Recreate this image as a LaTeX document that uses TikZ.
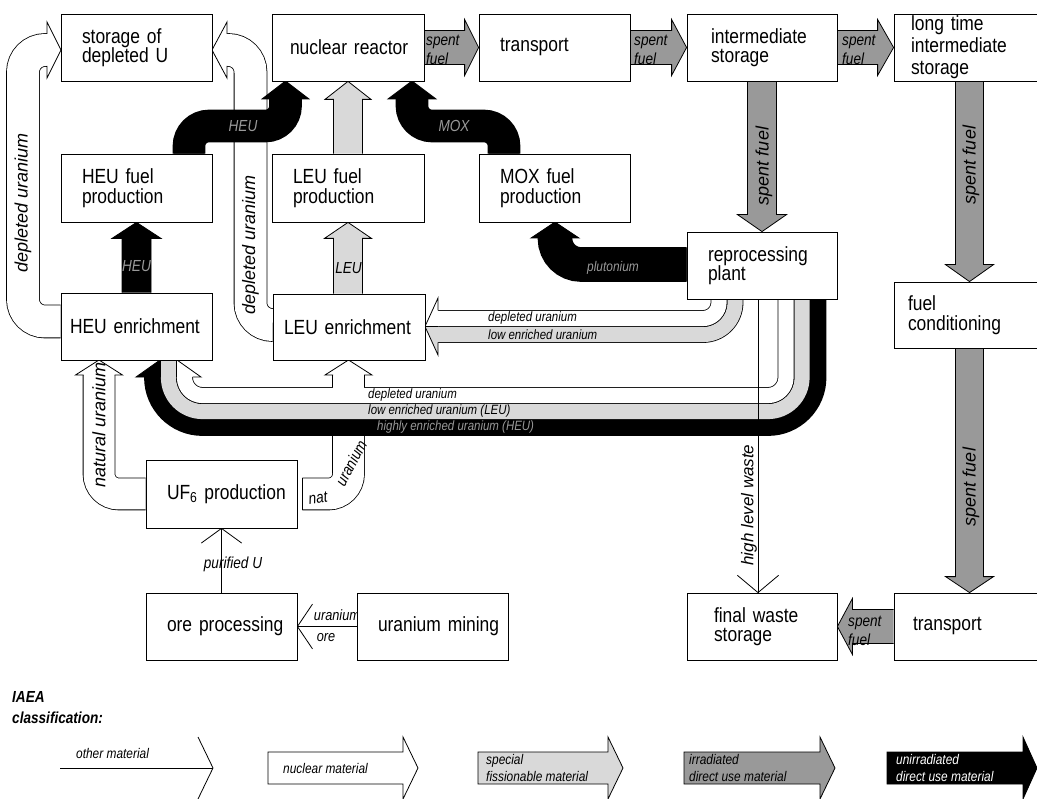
\documentclass[tikz,border=0pt]{standalone}
\usepackage{fontspec}
\setmainfont{Liberation Sans}
\newfontfamily\cnd{Liberation Sans}[FakeStretch=0.85]
\usetikzlibrary{calc}
\pgfdeclarelayer{bg}
\pgfsetlayers{bg,main}
\definecolor{lg}{gray}{0.85}
\definecolor{mg}{gray}{0.6}
\definecolor{lbl}{gray}{0.6}
\tikzset{
 ln/.style={line width=0.8pt},
 box/.style={draw, line width=0.8pt, fill=white, align=left, inner ysep=0pt, minimum height=67pt, font=\cnd\fontsize{20.5}{19.5}\selectfont},
 band/.style 2 args={line width=0.8pt, draw=black, double=#1, double distance=#2},
 vlab/.style={font=\itshape\fontsize{18}{20}\selectfont, inner sep=0pt},
 slab/.style={font=\cnd\itshape\fontsize{16}{19.5}\selectfont, inner sep=0pt, align=left},
 tlab/.style={font=\cnd\itshape\fontsize{13.5}{14}\selectfont, inner sep=0pt, anchor=west},
 leg/.style={font=\cnd\itshape\fontsize{14}{17}\selectfont, inner sep=0pt, align=left, anchor=west},
}
% straight block arrow: start, end, half body, half head, head length, fill
\newcommand\barrow[6]{%
 \path (#1) coordinate (ba) (#2) coordinate (bb);
 \path ($(bb)!#5pt!(ba)$) coordinate (bh);
 \path ($(ba)!#3pt!90:(bb)$) coordinate (b1)
       ($(ba)!#3pt!-90:(bb)$) coordinate (b2)
       ($(bh)!#3pt!90:(bb)$) coordinate (h1)
       ($(bh)!#3pt!-90:(bb)$) coordinate (h2)
       ($(bh)!#4pt!90:(bb)$) coordinate (w1)
       ($(bh)!#4pt!-90:(bb)$) coordinate (w2);
 \fill[#6] (b1) -- (h1) -- (w1) -- (bb) -- (w2) -- (h2) -- (b2) -- cycle;
 \draw[ln] (b1) -- (h1) -- (w1) -- (bb) -- (w2) -- (h2) -- (b2);}
% block arrow head: fill, base point, angle, half body, half head, length
\newcommand\hd[6]{%
 \begin{scope}[shift={#2}, rotate=#3]
 \fill[#1] (0,-#5) -- (#6,0) -- (0,#5) -- cycle;
 \draw[ln] (0,-#4) -- (0,-#5) -- (#6,0) -- (0,#5) -- (0,#4);
 \end{scope}}
% thin line with open chevron: from, to, wing length, angle
\newcommand\larrow[4]{%
 \draw[ln] (#1) -- (#2);
 \draw[ln] ($(#2)!#3pt!#4:(#1)$) -- (#2) -- ($(#2)!#3pt!-#4:(#1)$);}
\begin{document}
\begin{tikzpicture}[x=1pt,y=-1pt]
\useasboundingbox (0,0) rectangle (1037,799);

% ---------- boxes ----------
\node[box, text width=109pt, inner xsep=21pt] (stor) at (136.5,47.5) {storage of\\depleted U};
\node[box, minimum height=68pt, text width=109pt, inner xsep=21pt] (heufp) at (136.5,188) {HEU fuel\\production};
\node[box, text width=133pt, inner xsep=9pt] (heuen) at (136.5,326.5) {\mbox{HEU enrichment}};
\node[box, text width=116pt, inner xsep=18pt] (reac) at (348,47.5) {\mbox{nuclear reactor}};
\node[box, text width=109pt, inner xsep=21pt] (tra) at (554.5,47.5) {transport};
\node[box, text width=102pt, inner xsep=24pt] (inter) at (762,47.5) {intermediate\\storage};
\node[box, text width=117pt, inner xsep=17pt, font=\cnd\fontsize{20.5}{22}\selectfont] (longt) at (969.5,47.5) {long time\\intermediate\\storage};
\node[box, minimum height=68pt, text width=110pt, inner xsep=21pt] (lfp) at (348,188) {LEU fuel\\production};
\node[box, minimum height=66pt, text width=130pt, inner xsep=11pt] (lenr) at (349,327) {\mbox{LEU enrichment}};
\node[box, minimum height=68pt, text width=109pt, inner xsep=21pt] (moxfp) at (554.5,188) {MOX fuel\\production};
\node[box, text width=108pt, inner xsep=21pt] (repro) at (762,265.5) {reprocessing\\plant};
\node[box, minimum height=66pt, text width=123pt, inner xsep=14pt] (fcond) at (969.5,315) {fuel\\conditioning};
\node[box, minimum height=68pt, text width=109pt, inner xsep=21pt] (uf6) at (221.5,494) {\mbox{UF\textsubscript{6} production}};
\node[box, text width=109pt, inner xsep=21pt] (ore) at (221.5,626.5) {\mbox{ore processing}};
\node[box, text width=109pt, inner xsep=21pt] (mine) at (432.5,626.5) {\mbox{uranium mining}};
\node[box, text width=96pt, inner xsep=27pt] (fws) at (762,626.5) {final waste\\storage};
\node[box, text width=113pt, inner xsep=19pt] (tra2) at (969.5,626.5) {transport};

% ---------- legend ----------
\node[font=\cnd\bfseries\itshape\fontsize{16}{21}\selectfont, align=left, anchor=north west, inner sep=0pt] (iaea) at (12,691) {IAEA\\classification:};
\draw[ln] (60,768) -- (213,768);
\draw[ln] (198,737) -- (213,768) -- (198,799);
\node[leg, anchor=base west] (lg1) at (76,758) {other material};
\filldraw[ln, fill=white] (268,752) -- (403,752) -- (403,737) -- (418,768) -- (403,799) -- (403,784) -- (268,784) -- cycle;
\node[leg] (lg2) at (283,768) {nuclear material};
\filldraw[ln, fill=lg] (478,752) -- (608,752) -- (608,737) -- (623,768) -- (608,799) -- (608,784) -- (478,784) -- cycle;
\node[leg] (lg3) at (486,768) {special\\fissionable material};
\filldraw[ln, fill=mg] (684,752) -- (820,752) -- (820,737) -- (835,768) -- (820,799) -- (820,784) -- (684,784) -- cycle;
\node[leg] (lg4) at (689,768) {irradiated\\direct use material};
\filldraw[ln, fill=black] (887,752) -- (1023,752) -- (1023,737) -- (1037,768) -- (1023,799) -- (1023,784) -- (887,784) -- cycle;
\node[leg, text=white] (lg5) at (896,768) {unirradiated\\direct use material};

\begin{pgfonlayer}{bg}
% depleted uranium (HEU enrichment -> storage)
\draw[band={white}{32pt}, rounded corners=22pt] ($(heuen.west)+(0,-5)$) -- (23,321.5) -- (23,50) -- (47,50);
\hd{white}{(47,50)}{0}{16}{28}{14}
\node[vlab, rotate=90] (ldu1) at (23,203) {depleted uranium};
% depleted uranium (LEU enrichment -> storage)
\draw[band={white}{32pt}, rounded corners=22pt] ($(lenr.west)+(0,-2)$) -- (250.5,325) -- (250.5,50) -- (227,50);
\hd{white}{(227,50)}{180}{16}{28}{15}
\node[vlab, rotate=90] (ldu2) at (250.5,245) {depleted uranium};

% HEU fuel -> reactor
\draw[band={black}{31pt}, rounded corners=20pt] ($(heufp.north)+(52.5,0)$) -- (189,126) -- (285.5,126) -- (285.5,99);
\hd{black}{(285.5,99)}{90}{15.5}{23.5}{18}
\node[slab, text=lbl] (lheus) at (243,126) {HEU};
% MOX fuel -> reactor
\draw[band={black}{31pt}, rounded corners=20pt] ($(moxfp.north)+(-50.5,0)$) -- (504,126) -- (412,126) -- (412,99);
\hd{black}{(412,99)}{90}{15.5}{24}{18}
\node[slab, text=lbl] (lmox) at (454,126) {MOX};

% LEU / HEU straight arrows
\barrow{lfp.north}{reac.south}{14.5}{23}{18}{lg}
\barrow{lfp.south |- lenr.north}{lfp.south}{14.5}{23.5}{16}{lg}
\node[slab] (lleu) at (348.5,268) {LEU};
\barrow{heuen.north}{heufp.south}{14.5}{24.5}{16}{black}
\node[slab, text=lbl] (lheu) at (136.5,266) {HEU};

% spent fuel
\barrow{reac.east}{tra.west}{17}{28}{14}{mg}
\node[slab, anchor=west] (lsf1) at (426,50) {spent\\fuel};
\barrow{tra.east}{inter.west}{17}{28}{15}{mg}
\node[slab, anchor=west] (lsf2) at (634,50) {spent\\fuel};
\barrow{inter.east}{longt.west}{17}{28}{16}{mg}
\node[slab, anchor=west] (lsf3) at (842,50) {spent\\fuel};
\barrow{inter.south}{repro.north}{14.5}{24.5}{17}{mg}
\node[vlab, rotate=90] (lsf4) at (764,166) {spent fuel};
\barrow{longt.south}{fcond.north}{14}{24}{17}{mg}
\node[vlab, rotate=90] (lsf5) at (971,165) {spent fuel};
\barrow{fcond.south}{tra2.north}{14}{24}{16}{mg}
\node[vlab, rotate=90] (lsf6) at (971,487) {spent fuel};
\barrow{tra2.west}{fws.east}{17}{28}{15}{mg}
\node[slab, anchor=west] (lsf7) at (848,631) {spent\\fuel};

% plutonium
\draw[band={black}{33pt}, rounded corners=26pt] ($(repro.west)+(0,-1)$) -- (555,264.5) -- (555,238);
\hd{black}{(555,238)}{90}{16.5}{24}{16}
\node[slab, text=lbl, font=\cnd\itshape\fontsize{14}{14}\selectfont] (lplu) at (613,268) {plutonium};

% natural uranium
\draw[band={white}{31pt}, rounded corners=20pt] (uf6.west) -- (99,494) -- (99,375);
\hd{white}{(99,375)}{90}{15.5}{23.5}{15}
\node[vlab, rotate=90] (lnu) at (99,425) {natural uranium};

% nat uranium body
\draw[band={white}{31pt}, rounded corners=20pt] ($(uf6.east)+(5,0)$) -- (348.5,494) -- (348.5,375);
\draw[ln] (302,478.1) -- (302,509.9);
\node[slab, rotate=8] (lnat1) at (318,498) {nat};
\node[slab, rotate=62] (lnat2) at (351,463) {uranium};

% reprocessing -> enrichment (three bands)
\draw[band={black}{15.2pt}, rounded corners=50pt] ($(repro.south)+(56,-1)$) -- (818,427.5) -- (152.5,427.5) -- (152.5,377);
\draw[band={lg}{15.2pt}, rounded corners=34pt] ($(repro.south)+(40,-1)$) -- (802,411.5) -- (168.5,411.5) -- (168.5,377);
\draw[band={white}{15.2pt}, rounded corners=18pt] ($(repro.south)+(24,-1)$) -- (786,395.5) -- (184.5,395.5) -- (184.5,377);
\node[tlab] (lb1) at (368,395.5) {depleted uranium};
\node[tlab] (lb2) at (368,411.5) {low enriched uranium (LEU)};
\node[tlab, text=lbl] (lb3) at (377,427.5) {highly enriched uranium (HEU)};

% junction into LEU enrichment
\fill[white] (333,375) rectangle (364,387.9);
\draw[ln] (332.6,375) -- (332.6,387.5) (364.4,375) -- (364.4,387.5);
\hd{white}{(348.5,375)}{90}{15.5}{23.5}{15}

% composite head into HEU enrichment
\begin{scope}
\clip (136,377.2) -- (168.5,354) -- (201,377.2) -- cycle;
\fill[black] (130,340) rectangle (160.5,378);
\fill[lg] (160.5,340) rectangle (176.5,378);
\fill[white] (176.5,340) rectangle (205,378);
\end{scope}
\draw[ln] (144.5,377) -- (136,377) -- (168.5,354) -- (201,377) -- (192.5,377);
\draw[ln] (160.5,377) -- (160.5,358) (176.5,377) -- (176.5,358);

% reprocessing -> LEU enrichment (two bands)
\draw[band={lg}{15.2pt}, rounded corners=32pt] ($(repro.south)+(-27,-1)$) -- (735,334.5) -- (438,334.5);
\draw[band={white}{15.2pt}, rounded corners=16pt] ($(repro.south)+(-43,-1)$) -- (719,318.5) -- (438,318.5);
\fill[white] (438,298) -- (425,326.5) -- (438,326.5) -- cycle;
\fill[lg] (438,326.5) -- (425,326.5) -- (438,355) -- cycle;
\draw[ln] (438,310.5) -- (438,298) -- (425,326.5) -- (438,355) -- (438,342.5);
\draw[ln] (425,326.5) -- (438,326.5);
\node[tlab] (lb4) at (488,318.5) {depleted uranium};
\node[tlab] (lb5) at (488,334.5) {low enriched uranium};

% thin line connectors
\coordinate (hw1) at ($(repro.south)+(-4,0)$);
\coordinate (hw2) at ($(fws.north)+(-4,0)$);
\larrow{hw1}{hw2}{27}{50}
\node[vlab, rotate=90, font=\itshape\fontsize{17}{20}\selectfont] (lhlw) at (749,505) {high level waste};
\larrow{ore.north}{uf6.south}{25}{54}
\node[slab] (lpu) at (233,564) {purified U};
\larrow{mine.west}{ore.east}{27}{56}
\node[slab, font=\cnd\itshape\fontsize{15}{15}\selectfont] (lur) at (337,615) {uranium};
\node[slab, font=\cnd\itshape\fontsize{15}{15}\selectfont] (lore) at (326,638) {ore};
\end{pgfonlayer}
\end{tikzpicture}
\end{document}
